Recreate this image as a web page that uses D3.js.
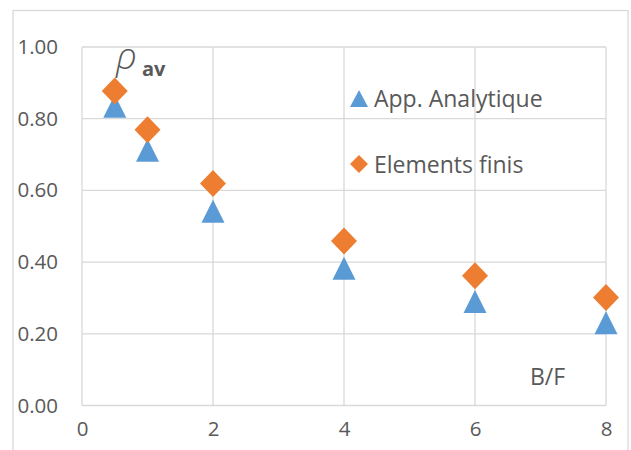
<!DOCTYPE html>
<html><head><meta charset="utf-8">
<script src="https://cdn.jsdelivr.net/npm/d3@7"></script>
<style>html,body{margin:0;padding:0;background:#fff;}svg{display:block;}</style>
</head><body>
<svg id="chart" width="631" height="450"></svg>
<script>
const bfValues = [0.5, 1, 2, 4, 6, 8];
const analytique = [0.835, 0.712, 0.542, 0.383, 0.29, 0.231];
const elementsFinis = [0.877, 0.769, 0.619, 0.459, 0.362, 0.301];
const xTicks = [0, 2, 4, 6, 8];
const yTicks = [0, 0.2, 0.4, 0.6, 0.8, 1.0];
const seriesNames = ["App. Analytique", "Elements finis"];
const colors = ["#5b9bd5", "#ed7d31"];

const svg = d3.select("#chart");
const font = "'Open Sans', 'Liberation Sans', sans-serif";
const textCol = "#595959";
const gridCol = "#d9d9d9";

// outer chart border
svg.append("rect").attr("x", 13).attr("y", 10.5).attr("width", 615).attr("height", 460)
  .attr("fill", "none").attr("stroke", gridCol).attr("stroke-width", 1.3);

const x = d3.scaleLinear().domain([0, 8]).range([82, 606]);
const y = d3.scaleLinear().domain([0, 1]).range([405.5, 47]);

const g = svg.append("g");
// gridlines
g.selectAll(".hg").data(yTicks).join("line")
  .attr("x1", x(0)).attr("x2", x(8)).attr("y1", d => y(d)).attr("y2", d => y(d))
  .attr("stroke", gridCol).attr("stroke-width", 1.3);
g.selectAll(".vg").data(xTicks).join("line")
  .attr("x1", d => x(d)).attr("x2", d => x(d)).attr("y1", y(0)).attr("y2", y(1))
  .attr("stroke", gridCol).attr("stroke-width", 1.3);

// axes labels via d3 axes
const yAxis = d3.axisLeft(y).tickValues(yTicks).tickFormat(d3.format(".2f")).tickSize(0).tickPadding(24);
const ya = svg.append("g").attr("transform", `translate(${x(0)},0)`).call(yAxis);
ya.select(".domain").remove();
ya.selectAll("text").attr("font-family", font).attr("font-size", 20.5).attr("fill", textCol);

const xAxis = d3.axisBottom(x).tickValues(xTicks).tickFormat(d3.format("d")).tickSize(0).tickPadding(16);
const xa = svg.append("g").attr("transform", `translate(0,${y(0)})`).call(xAxis);
xa.select(".domain").remove();
xa.selectAll("text").attr("font-family", font).attr("font-size", 20.5).attr("fill", textCol);

// marker paths
function triPath(cx, cy, w, h) {
  return `M${cx},${cy - h / 2}L${cx + w / 2},${cy + h / 2}L${cx - w / 2},${cy + h / 2}Z`;
}
function diaPath(cx, cy, w, h) {
  return `M${cx},${cy - h / 2}L${cx + w / 2},${cy}L${cx},${cy + h / 2}L${cx - w / 2},${cy}Z`;
}

const triData = bfValues.map((b, i) => ({ b, v: analytique[i] }));
const diaData = bfValues.map((b, i) => ({ b, v: elementsFinis[i] }));

svg.append("g").selectAll("path").data(triData).join("path")
  .attr("d", d => triPath(x(d.b), y(d.v), 23, 23)).attr("fill", colors[0]);
svg.append("g").selectAll("path").data(diaData).join("path")
  .attr("d", d => diaPath(x(d.b), y(d.v), 26, 27)).attr("fill", colors[1]);

// legend
const legend = svg.append("g");
legend.append("path").attr("d", triPath(359, 98.5, 18, 17)).attr("fill", colors[0]);
legend.append("text").attr("x", 374).attr("y", 107).text(seriesNames[0])
  .attr("font-family", font).attr("font-size", 23).attr("fill", textCol);
legend.append("path").attr("d", diaPath(359, 164, 18, 18)).attr("fill", colors[1]);
legend.append("text").attr("x", 374).attr("y", 172.5).text(seriesNames[1])
  .attr("font-family", font).attr("font-size", 23).attr("fill", textCol);

// rho_av label
svg.append("text").attr("x", 116).attr("y", 69)
  .attr("font-family", font).attr("font-size", 37).attr("font-weight", 300).attr("font-style", "italic").attr("fill", textCol)
  .text("ρ");
svg.append("text").attr("x", 142).attr("y", 76)
  .attr("font-family", font).attr("font-size", 20).attr("font-weight", "bold").attr("fill", textCol)
  .text("av");

// B/F label
svg.append("text").attr("x", 530).attr("y", 385)
  .attr("font-family", font).attr("font-size", 23).attr("fill", textCol)
  .text("B/F");
</script>
</body></html>
